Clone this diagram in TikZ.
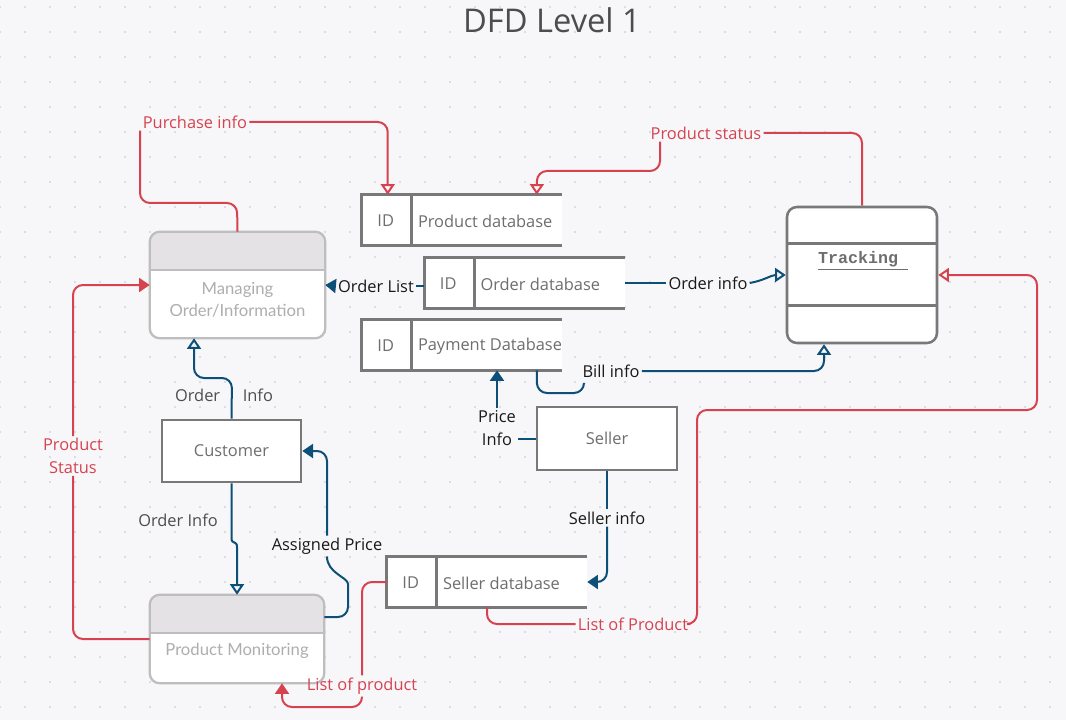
\documentclass[tikz,border=0pt]{standalone}
\usepackage{fontspec}
\setmainfont{Open Sans}
\newfontfamily\latofont{Lato}
\newfontfamily\trkfont{Liberation Mono}
\usetikzlibrary{arrows.meta}
\definecolor{bgc}{HTML}{F7F7FA}
\definecolor{dotc}{HTML}{D3D3DB}
\definecolor{redc}{HTML}{D6434F}
\definecolor{bluec}{HTML}{0E4F78}
\definecolor{boxc}{HTML}{787878}
\definecolor{procc}{HTML}{BEBEBE}
\definecolor{headc}{HTML}{E5E2E5}
\definecolor{txtg}{HTML}{6E6E6E}
\definecolor{txtl}{HTML}{AEAEAE}
\definecolor{titlec}{HTML}{4D4D4D}

\tikzset{
  redline/.style={draw=redc, line width=1.5pt, rounded corners=7.5pt},
  blueline/.style={draw=bluec, line width=1.5pt, rounded corners=7.5pt},
  openhead/.style={-{Triangle[open, length=8pt, width=10.5pt]}},
  fullhead/.style={-{Triangle[length=8pt, width=10.5pt]}},
  lbl/.style={font=\fontsize{12.3}{17}\selectfont, inner sep=1.5pt, align=center},
  redlbl/.style={lbl, text=redc},
  bluelbl/.style={lbl, text=black!90},
  storebox/.style={rectangle, fill=white, minimum width=150pt, minimum height=37.5pt, inner sep=0pt},
  storeline/.style={draw=boxc, line width=1.9pt},
  storetxt/.style={font=\fontsize{12.3}{14}\selectfont, text=txtg, inner sep=0pt},
  procshape/.style={rectangle, fill=white, rounded corners=7.5pt, inner sep=0pt},
  proctxt/.style={font=\latofont\fontsize{12.5}{16.5}\selectfont, text=txtl, align=center},
  trkbox/.style={rectangle, rounded corners=7.5pt, draw=boxc, line width=1.9pt, fill=white,
    minimum width=112.5pt, minimum height=102pt, inner sep=0pt},
  entbox/.style={rectangle, draw=boxc, line width=2pt, fill=white, text=txtg,
    font=\fontsize{12.3}{14}\selectfont, inner sep=0pt},
}

\newcommand\dstore[4]{%
  \node[storebox] (#1) at (#2,#3) {};
  \draw[storeline] (#1.north east) -- (#1.north west) -- (#1.south west) -- (#1.south east);
  \draw[storeline] ([xshift=37.5pt]#1.north west) -- ([xshift=37.5pt]#1.south west);
  \node[storetxt] (#1-id) at ([xshift=18pt,yshift=-0.7pt]#1.west) {ID};
  \node[storetxt, anchor=west] (#1-lbl) at ([xshift=42pt,yshift=-0.7pt]#1.west) {#4};
}

\newcommand\procbox[6]{%
  \node[procshape, minimum width=#4, minimum height=#5] (#1) at (#2,#3) {};
  \begin{scope}
    \clip[rounded corners=7.5pt] (#1.north west) rectangle (#1.south east);
    \fill[headc] (#1.north west) rectangle ([yshift=-#6]#1.north east);
  \end{scope}
  \draw[procc, line width=1.7pt] ([yshift=-#6]#1.north west) -- ([yshift=-#6]#1.north east);
  \draw[procc, line width=1.7pt, rounded corners=7.5pt] (#1.north west) rectangle (#1.south east);
}

\begin{document}
\begin{tikzpicture}[x=0.75pt, y=-0.75pt]
\useasboundingbox (0,0) rectangle (1066,720);
\fill[bgc] (0,0) rectangle (1066,720);
\foreach \i in {0,...,42}{\foreach \j in {0,...,28}{\fill[dotc] (\i*25,7+\j*25) circle (0.9pt);}}

\node[font=\fontsize{24.5}{28}\selectfont, text=titlec] (title) at (552,20) {DFD Level 1};

% processes
\procbox{mo}{237.5}{285}{131.25pt}{79.5pt}{28.5pt}
\node[proctxt] (mo-t) at (237.5,300) {Managing\\Order/Information};
\procbox{pm}{237}{639}{130.5pt}{66pt}{28.5pt}
\node[proctxt] (pm-t) at (237,651) {Product Monitoring};

% tracking
\node[trkbox] (trk) at (862,275) {};
\draw[boxc, line width=1.9pt] ([yshift=-28.5pt]trk.north west) -- ([yshift=-28.5pt]trk.north east);
\draw[boxc, line width=1.9pt] ([yshift=-75pt]trk.north west) -- ([yshift=-75pt]trk.north east);
\node[font=\trkfont\bfseries\fontsize{12.5}{14}\selectfont, text=txtg] (trk-t) at (863,261) {\underline{Tracking\ }};

% external entities
\node[entbox, minimum width=104.25pt, minimum height=46.5pt] (cus) at (231.5,451) {Customer};
\node[entbox, minimum width=105pt, minimum height=47.25pt] (sel) at (607,438.5) {Seller};

% data stores
\dstore{pdb}{462}{220}{Product database}
\dstore{odb}{524.5}{283}{Order database}
\dstore{pay}{462}{345}{Payment Database}
\dstore{sdb}{487}{582}{Seller database}

% labels
\node[redlbl] (pi) at (195,122) {Purchase info};
\node[redlbl] (ps) at (706,133) {Product status};
\node[bluelbl] (ol) at (376,286) {Order List};
\node[bluelbl] (oi) at (708,283) {Order info};
\node[bluelbl] (bi) at (611,371) {Bill info};
\node[bluelbl] (pri) at (497,428) {Price\\Info};
\node[bluelbl] (si) at (607,518) {Seller info};
\node[redlbl] (lp) at (633,624) {List of Product};
\node[redlbl] (lpb) at (362,686) {List of product};
\node[redlbl] (pst) at (73,456) {Product\\Status};
\node[bluelbl, text=txtg!70!black] (oiu) at (224,395) {Order\hspace{17pt}Info};
\node[bluelbl, text=txtg!70!black] (oid) at (178,520) {Order Info};
\node[bluelbl] (ap) at (327,546) {Assigned Price};

% red flows
\draw[redline] (mo.north) -- (237,203) -- (140,203) -- (140,0 |- pi.south);
\draw[redline, openhead] (pi.east) -| ([xshift=19.5pt]pdb.north west);
\draw[redline] (trk.north) |- (ps.east);
\draw[redline, openhead] (660,0 |- ps.south) -- (660,171) -- (537,171) -- ([xshift=131.25pt]pdb.north west);
\draw[redline] (sdb.south) |- (lp.west);
\draw[redline, openhead] (lp.east) -| (697,410) -| (1037,275) -- (trk.east);
\draw[redline] (sdb.west) -| (lpb.north);
\draw[redline, fullhead] (lpb.south) -- (362,707) -| ([xshift=33.75pt]pm.south);
\draw[redline] (pm.west) -| (pst.south);
\draw[redline, fullhead] (pst.north) |- (mo.west);

% blue flows
\draw[blueline] (ol.east -| odb.west) -- (ol.east);
\draw[blueline, fullhead] (ol.west) -- (mo.east);
\draw[blueline] (odb.east) -- (oi.west);
\draw[blueline, openhead] (oi.east) to[out=10, in=180] (trk.west);
\draw[blueline] ([xshift=131.25pt]pay.south west) -- (537,393) -- (584,393) -- (584,384);
\draw[blueline, openhead] (bi.east) -| ([xshift=-28.5pt]trk.south);
\draw[blueline] (sel.west) -- (sel.west -| pri.east);
\draw[blueline, fullhead] (pri.north) -- (pri.north |- pay.south);
\draw[blueline] (sel.south) -- (si.north);
\draw[blueline, fullhead] (si.south) |- (sdb.east);
\draw[blueline, openhead] (cus.north) -- (232,378) -- (194,378) -- ([xshift=-32.6pt]mo.south);
\draw[blueline, openhead] (cus.south) -- (231.5,528) .. controls (231.5,545) and (237,540) .. (237,557) -- (pm.north);
\draw[blueline] ([yshift=16.5pt]pm.east) -- (348,617) -- (348,594) to[out=90, in=-90] (ap.south);
\draw[blueline, fullhead] (ap.north) |- (cus.east);
\end{tikzpicture}
\end{document}
